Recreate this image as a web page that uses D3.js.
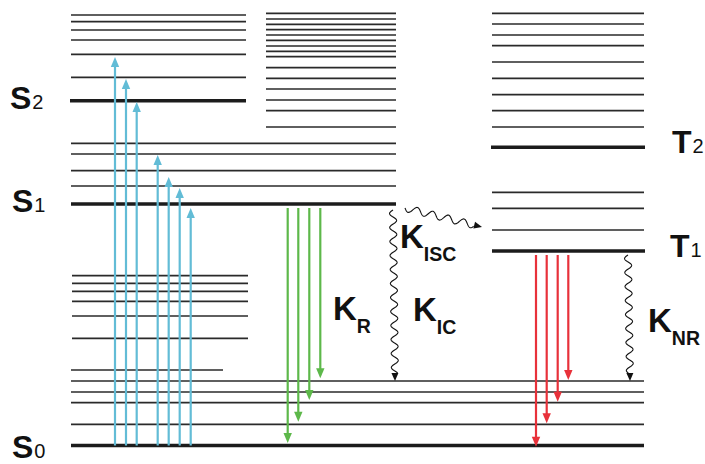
<!DOCTYPE html>
<html>
<head>
<meta charset="utf-8">
<script src="https://cdn.jsdelivr.net/npm/d3@7"></script>
<style>
html,body{margin:0;padding:0;background:#fff;}
svg{display:block;}
text{font-family:"Liberation Sans",Arial,sans-serif;}
</style>
</head>
<body>
<svg id="chart" width="705" height="464"></svg>
<script>
// ---------- DATA (energies, arbitrary units, ground state S0 = 0) ----------
// Singlet manifold, left column (S2 region)
const s2Vib = [430.5, 423.8, 415.5, 405.5, 391.2, 368.2];
const s2Level = [344.8];
// S1 manifold (spans left+middle)
const s1Vib = [302.2, 291.5, 274.8, 259.5];
const s1Level = [241.5];
// upper-left short levels below S1
const leftLow = [169.8, 162.2, 154.2, 144.2, 129.5, 107.2];
const leftLowest = [75.5];
// S0 manifold (spans whole width)
const s0Vib = [64.5, 53.5, 42.8, 21.2];
const s0Level = [0];
// middle column (dense upper levels)
const midVib = [432.2, 426.5, 421.2, 415.8, 410.5, 405.2, 399.5, 394.2, 388.8, 377.8, 367.2, 356.5, 345.5, 334.8, 318.5];
// triplet manifold
const t2Vib = [432.2, 421.5, 410.5, 399.8, 383.5, 367.2, 350.8, 334.8, 318.5];
const t2Level = [298.2];
const t1Vib = [253.2, 237.2, 215.5];
const t1Level = [194.5];

// absorption arrows (from S0 up to these energies)
const absorptionEnds = [388.5, 366.5, 343.5, 290.5, 268.5, 257.5, 237.5];
// fluorescence arrows (from S1 down to these energies)
const fluorescenceStart = 237.5;
const fluorescenceEnds = [2.5, 23.8, 45.5, 67.2];
// phosphorescence arrows (from T1 down to these energies)
const phosphorescenceStart = 190.5;
const phosphorescenceEnds = [-1.2, 22.2, 43.8, 65.5];
// non-radiative processes
const icStartEnd = [235.5, 64.5];
const nrStartEnd = [190.5, 64.5];
const iscStartEnd = [237.5, 218.5];

// state labels
const stateLabels = [
  {main:"S", sub:"2", e:337},
  {main:"S", sub:"1", e:234},
  {main:"S", sub:"0", e:-12.5},
  {main:"T", sub:"2", e:292.5},
  {main:"T", sub:"1", e:189}
];
const rateLabels = [
  {main:"K", sub:"R", e:125.5},
  {main:"K", sub:"IC", e:124.5},
  {main:"K", sub:"ISC", e:197.5},
  {main:"K", sub:"NR", e:113.5}
];

// ---------- LAYOUT ----------
const svg = d3.select("#chart");
const y = d3.scaleLinear().domain([0, 432.5]).range([445.5, 13]);

const lineColor = "#1c1c1c";
const thin = 1.7, thick = 3.6;

function levels(data, x0, x1, w, color){
  svg.append("g").selectAll("line").data(data).join("line")
    .attr("x1", x0).attr("x2", x1)
    .attr("y1", d => y(d)).attr("y2", d => y(d))
    .attr("stroke", color || lineColor).attr("stroke-width", w);
}

const colL = [71, 246], colLong = [71, 396], colMid = [266, 396], colR = [492, 644], colAll = [71, 644];

levels(s2Vib, colL[0], colL[1], thin, "#2a2a2a");
levels(s2Level, colL[0]-1, colL[1], thick);
levels(s1Vib, colLong[0], colLong[1], thin, "#2a2a2a");
levels(s1Level, colLong[0], colLong[1], thick);
levels(leftLow, colL[0]+1, 248, thin, "#2a2a2a");
levels(leftLowest, colL[0], 223, thin, "#2a2a2a");
levels(s0Vib, colAll[0], colAll[1], thin, "#2a2a2a");
levels(s0Level, colAll[0], colAll[1], thick);
levels(midVib, colMid[0], colMid[1], thin, "#2a2a2a");
levels(t2Vib, colR[0], colR[1], thin, "#2a2a2a");
levels(t2Level, colR[0]-1, colR[1]+1, thick);
levels(t1Vib, colR[0], colR[1], thin, "#2a2a2a");
levels(t1Level, colR[0], colR[1]+1, thick);

// ---------- straight arrows ----------
function arrow(g, x0, e0, e1, color){
  const ya = y(e0), yb = y(e1);
  const dir = yb < ya ? -1 : 1;
  const hl = 10, hw = 4.2;
  g.append("line").attr("x1", x0).attr("x2", x0)
    .attr("y1", ya).attr("y2", yb - dir*hl*0.8)
    .attr("stroke", color).attr("stroke-width", 2.2);
  g.append("path")
    .attr("d", `M${x0},${yb} L${x0-hw},${yb-dir*hl} L${x0+hw},${yb-dir*hl} Z`)
    .attr("fill", color);
}

const blue = "#62bcd6", green = "#5db84a", red = "#e8313a";
const absX = [115, 126, 136.7, 157.7, 168.7, 179.7, 190.7];
const gA = svg.append("g");
absorptionEnds.forEach((e, i) => arrow(gA, absX[i], 0, e, blue));
const fluX = [287.7, 298.3, 309.3, 320.3];
const gF = svg.append("g");
fluorescenceEnds.forEach((e, i) => arrow(gF, fluX[i], fluorescenceStart, e, green));
const phoX = [536, 546.7, 557.7, 568.3];
const gP = svg.append("g");
phosphorescenceEnds.forEach((e, i) => arrow(gP, phoX[i], phosphorescenceStart, e, red));

// ---------- wavy arrows ----------
function wavy(xa, ya, xb, yb, period, amp){
  const dx = xb - xa, dy = yb - ya;
  const len = Math.hypot(dx, dy);
  const ux = dx/len, uy = dy/len, nx = -uy, ny = ux;
  const hl = 8, hw = 3.5;
  const L = len - hl;
  const pts = [];
  for (let s = 0; s <= L; s += 0.5){
    const o = amp*Math.sin(2*Math.PI*s/period);
    pts.push([xa + ux*s + nx*o, ya + uy*s + ny*o]);
  }
  const g = svg.append("g");
  g.append("path").attr("d", d3.line()(pts)).attr("fill","none")
    .attr("stroke", "#111").attr("stroke-width", 1.1);
  const bx = xa + ux*L, by = ya + uy*L;
  g.append("path")
    .attr("d", `M${xb},${yb} L${bx+nx*hw},${by+ny*hw} L${bx-nx*hw},${by-ny*hw} Z`)
    .attr("fill", "#111");
}
wavy(393, y(icStartEnd[0]), 395, y(icStartEnd[1]), 14, 3.5);
wavy(628, y(nrStartEnd[0]), 630, y(nrStartEnd[1]), 14, 3.5);
wavy(405, y(iscStartEnd[0]), 482, y(iscStartEnd[1]), 16, 3.5);

// ---------- labels ----------
const stateX = [10, 12, 12, 672, 670];
stateLabels.forEach((d, i) => {
  const t = svg.append("text").attr("x", stateX[i]).attr("y", y(d.e))
    .attr("fill", "#111");
  t.append("tspan").text(d.main).attr("font-size", 32).attr("font-weight", "bold");
  t.append("tspan").text(d.sub).attr("font-size", 20).attr("dx", 1);
});
const rateX = [333, 413, 400, 648];
rateLabels.forEach((d, i) => {
  const t = svg.append("text").attr("x", rateX[i]).attr("y", y(d.e))
    .attr("fill", "#111").attr("font-weight", "bold");
  t.append("tspan").text(d.main).attr("font-size", 33);
  t.append("tspan").text(d.sub).attr("font-size", 19.5).attr("dy", 12.5).attr("dx", 0);
});
</script>
</body>
</html>
